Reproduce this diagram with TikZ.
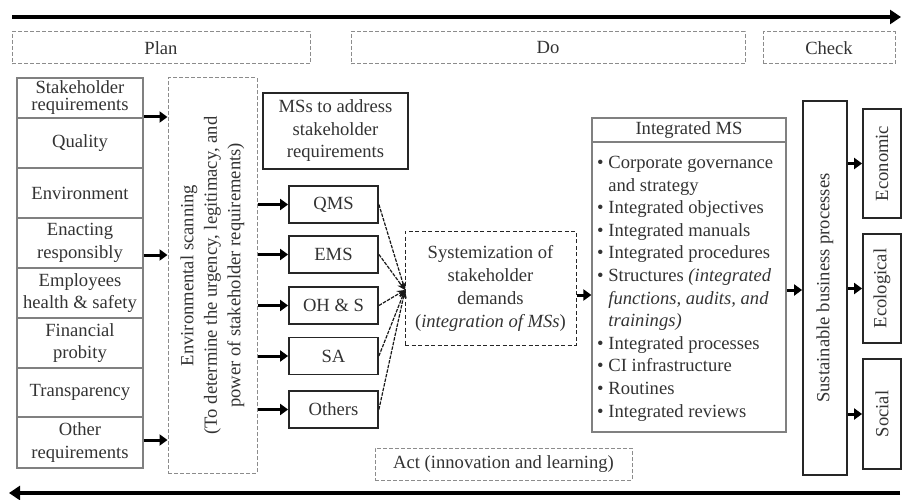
\documentclass[tikz,border=0pt]{standalone}
\usepackage{fontspec}
\setmainfont{Liberation Serif}
\usetikzlibrary{arrows.meta}
\begin{document}
\begin{tikzpicture}[x=1pt,y=-1pt,
  every node/.style={font=\fontsize{18.6}{22.5}\selectfont, text=black!80, inner sep=0pt},
  cell/.style={draw=black!50, line width=1.2pt, minimum width=126pt, align=center},
  phase/.style={draw=black!45, dash pattern=on 4pt off 2pt, line width=1pt},
  sbox/.style={draw=black!85, line width=1.8pt, align=center},
  fat/.style={line width=3pt, black, -{Triangle[length=8pt,width=11pt]}},
  big/.style={line width=4.5pt, black, -{Triangle[length=11pt,width=14pt]}},
  thin/.style={dash pattern=on 3.5pt off 1.2pt, line width=1.2pt, black!90, -{Stealth[length=8pt,width=7pt]}},
]
\useasboundingbox (0,0) rectangle (902,500);

% PDCA arrows
\coordinate (tl) at (12,17);
\coordinate (tr) at (901,17);
\coordinate (br) at (900,493);
\coordinate (bl) at (9,493);
\draw[big] (tl) -- (tr);
\draw[big] (br) -- (bl);

% phases
\node[phase, minimum width=298pt, minimum height=32pt] (plan) at (161,48) {Plan};
\node[phase, minimum width=394pt, minimum height=32pt] (do) at (548,48) {Do};
\node[phase, minimum width=132pt, minimum height=32pt] (check) at (829,48) {Check};
\node[phase, minimum width=257pt, minimum height=32pt] (act) at (503.5,464) {Act (innovation and learning)};

% left column
\node[cell, minimum height=40pt, font=\fontsize{18.6}{17}\selectfont] (sr) at (80,98) {Stakeholder\\requirements};
\node[cell, minimum height=50pt] (q) at (80,143) {Quality};
\node[cell, minimum height=50pt] (en) at (80,193) {Environment};
\node[cell, minimum height=50pt] (ea) at (80,243) {Enacting\\responsibly};
\node[cell, minimum height=50pt] (ehs) at (80,293) {Employees\\health \& safety};
\node[cell, minimum height=50pt] (fp) at (80,343) {Financial\\probity};
\node[cell, minimum height=49pt] (tr2) at (80,392.5) {Transparency};
\node[cell, minimum height=51pt] (oth) at (80,442.5) {Other\\requirements};

% environmental scanning
\node[phase, minimum width=89pt, minimum height=395pt] (envbox) at (212.5,275.5) {};
\node[rotate=90, align=center, font=\fontsize{18.6}{23.5}\selectfont] (envtxt) at (envbox.center) {Environmental scanning\\(To determine the urgency, legitimacy, and\\power of stakeholder requirements)};

\coordinate (h1) at (0,117);
\coordinate (h2) at (0,255);
\coordinate (h3) at (0,440);
\draw[fat] (sr.east |- h1) -- (envbox.west |- h1);
\draw[fat] (ea.east |- h2) -- (envbox.west |- h2);
\draw[fat] (oth.east |- h3) -- (envbox.west |- h3);

% MSs
\node[sbox, minimum width=145pt, minimum height=76pt] (mss) at (335.5,131) {MSs to address\\stakeholder\\requirements};
\node[sbox, minimum width=89pt, minimum height=37pt] (qms) at (333.5,204.5) {QMS};
\node[sbox, minimum width=89pt, minimum height=37pt] (ems) at (333.5,254.5) {EMS};
\node[sbox, minimum width=89pt, minimum height=37pt] (ohs) at (333.5,305.5) {OH \& S};
\node[sbox, minimum width=89pt, minimum height=37pt] (sa) at (333.5,356) {SA};
\node[sbox, minimum width=89pt, minimum height=37pt] (others) at (333.5,409.5) {Others};

\foreach \n in {qms,ems,ohs,sa,others}{
  \draw[fat] (envbox.east |- \n.west) -- (\n.west);
}

% systemization
\node[draw=black!85, dash pattern=on 4pt off 2.5pt, line width=1pt, minimum width=171pt, minimum height=114pt, align=center, font=\fontsize{18.6}{23}\selectfont] (sys) at (490.5,288) {Systemization of\\stakeholder\\demands\\(\textit{integration of MSs})};
\coordinate (conv) at (405,290);
\foreach \n in {qms,ems,ohs,sa,others}{
  \draw[thin] (\n.east) -- (conv);
}

% integrated MS
\node[draw=black!50, line width=1.2pt, minimum width=194pt, minimum height=314pt] (ims) at (689,275) {};
\draw[black!50, line width=1.6pt] (ims.west |- 0,142) -- (ims.east |- 0,142);
\node (imsh) at (689,130) {Integrated MS};
\node[anchor=north west, align=left, font=\fontsize{18.6}{22.6}\selectfont] (list) at (597,156) {• Corporate governance\\\phantom{• }and strategy\\• Integrated objectives\\• Integrated manuals\\• Integrated procedures\\• Structures \textit{(integrated}\\\phantom{• }\textit{functions, audits, and}\\\phantom{• }\textit{trainings)}\\• Integrated processes\\• CI infrastructure\\• Routines\\• Integrated reviews};

\coordinate (h4) at (0,295);
\draw[fat] (sys.east |- h4) -- (ims.west |- h4);

% sustainable
\node[sbox, minimum width=44pt, minimum height=374pt] (sbp) at (825,288) {};
\node[rotate=90] (sbpt) at (sbp.center) {Sustainable business processes};
\coordinate (h5) at (0,290);
\draw[fat] (ims.east |- h5) -- (sbp.west |- h5);

\node[sbox, minimum width=38pt, minimum height=109pt] (eco) at (882,163.5) {};
\node[sbox, minimum width=38pt, minimum height=109pt] (ecl) at (882,288.5) {};
\node[sbox, minimum width=38pt, minimum height=110pt] (soc) at (882,414) {};
\node[rotate=90] (ecot) at (eco.center) {Economic};
\node[rotate=90] (eclt) at (ecl.center) {Ecological};
\node[rotate=90] (soct) at (soc.center) {Social};
\foreach \n in {eco,ecl,soc}{
  \draw[fat] (sbp.east |- \n.west) -- (\n.west);
}
\end{tikzpicture}
\end{document}
